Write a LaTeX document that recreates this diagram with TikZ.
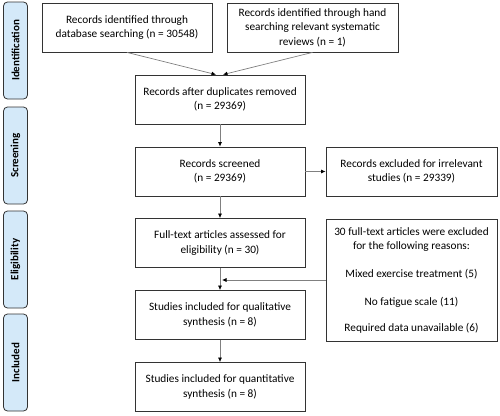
\documentclass[tikz,border=0pt]{standalone}
\usepackage{fontspec}
\setmainfont{Carlito}
\usetikzlibrary{arrows.meta,calc}
\definecolor{phasefill}{RGB}{212,233,249}
\begin{document}
\begin{tikzpicture}[x=1pt,y=-1pt,
  box/.style={draw=black!80,line width=0.8pt,minimum width=170pt,minimum height=49pt,align=center,font=\fontsize{11.3}{14.5}\selectfont,inner sep=2pt},
  phase/.style={draw=black!80,line width=0.8pt,fill=phasefill,rounded corners=4pt,rotate=90,minimum width=97pt,minimum height=24pt,font=\bfseries\fontsize{11}{12}\selectfont,inner sep=0pt},
  conn/.style={draw=black!50,line width=0.7pt,-{Latex[length=4.5pt,width=4pt,color=black]}}]
\useasboundingbox (0,0) rectangle (500,415);
\node[phase] (pI) at (15.5,50.5) {Identification};
\node[phase] (pS) at (15.5,155.5) {Screening};
\node[phase] (pE) at (15.5,259.5) {Eligibility};
\node[phase] (pN) at (15.5,362.5) {Included};
\node[box] (db) at (127,27.5) {Records identified through\\database searching (n = 30548)};
\node[box,minimum width=171pt] (hand) at (312.5,27.5) {Records identified through hand\\searching relevant systematic\\reviews (n = 1)};
\node[box] (dup) at (220,99.5) {Records after duplicates removed\\(n = 29369)};
\node[box] (scr) at (220,171.5) {Records screened\\(n = 29369)};
\node[box,minimum width=171pt] (exc) at (411.5,171.5) {Records excluded for irrelevant\\studies (n = 29339)};
\node[box] (ft) at (220,243) {Full-text articles assessed for\\eligibility (n = 30)};
\node[box,minimum width=171pt,minimum height=122pt] (rea) at (411.5,280) {30 full-text articles were excluded\\for the following reasons:\\[13pt]Mixed exercise treatment (5)\\[14pt]No fatigue scale (11)\\[11pt]Required data unavailable (6)};
\node[box] (qual) at (220,315) {Studies included for qualitative\\synthesis (n = 8)};
\node[box] (quan) at (220,387) {Studies included for quantitative\\synthesis (n = 8)};
\draw[conn] (db.south) -- ($(dup.north)+(-4,0)$);
\draw[conn] (hand.south) -- ($(dup.north)+(3,0)$);
\draw[conn] (dup) -- (scr);
\draw[conn] (scr) -- (exc);
\draw[conn] (scr) -- (ft);
\draw[conn] (ft) -- (qual);
\draw[conn] (rea.west) -- ($(rea.west -| ft.south)+(2,0)$);
\draw[conn] (qual) -- (quan);
\end{tikzpicture}
\end{document}
